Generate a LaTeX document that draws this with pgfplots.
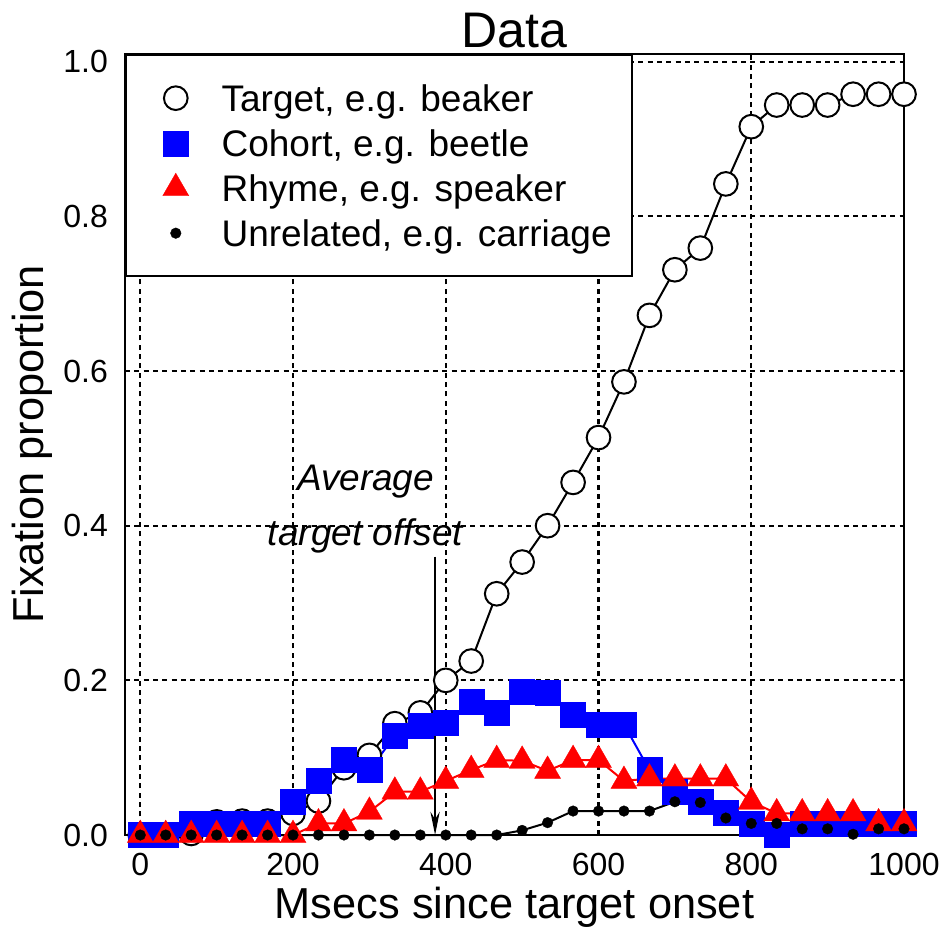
\documentclass[border=0pt]{standalone}
\usepackage{fontspec}
\setmainfont{Liberation Sans}
\usepackage{pgfplots}
\usepackage{pgfplotstable}
\pgfplotsset{compat=1.18}
\usetikzlibrary{arrows.meta}

\pgfplotstableread{
x y
0 0.0
33.3 0.0
66.7 0.002
100 0.017
133.3 0.018
166.7 0.018
200 0.028
233.3 0.044
266.7 0.087
300 0.103
333.3 0.144
366.7 0.158
400 0.200
433.3 0.225
466.7 0.312
500 0.353
533.3 0.400
566.7 0.456
600 0.514
633.3 0.586
666.7 0.672
700 0.731
733.3 0.759
766.7 0.842
800 0.916
833.3 0.944
866.7 0.944
900 0.944
933.3 0.958
966.7 0.958
1000 0.958
}\target

\pgfplotstableread{
x y
0 0.0
33.3 0.0
66.7 0.015
100 0.015
133.3 0.015
166.7 0.015
200 0.043
233.3 0.070
266.7 0.097
300 0.084
333.3 0.128
366.7 0.142
400 0.145
433.3 0.172
466.7 0.158
500 0.185
533.3 0.184
566.7 0.156
600 0.143
633.3 0.143
666.7 0.084
700 0.056
733.3 0.043
766.7 0.029
800 0.015
833.3 0.0
866.7 0.015
900 0.015
933.3 0.015
966.7 0.015
1000 0.015
}\cohort

\pgfplotstableread{
x y
0 0.0
33.3 0.0
66.7 0.0
100 0.0
133.3 0.0
166.7 0.0
200 0.0
233.3 0.015
266.7 0.015
300 0.030
333.3 0.056
366.7 0.056
400 0.070
433.3 0.084
466.7 0.097
500 0.096
533.3 0.083
566.7 0.097
600 0.097
633.3 0.070
666.7 0.073
700 0.073
733.3 0.073
766.7 0.073
800 0.043
833.3 0.028
866.7 0.028
900 0.028
933.3 0.028
966.7 0.015
1000 0.015
}\rhyme

\pgfplotstableread{
x y
0 0.0
33.3 0.0
66.7 0.0
100 0.0
133.3 0.0
166.7 0.0
200 0.0
233.3 0.0
266.7 0.0
300 0.0
333.3 0.0
366.7 0.0
400 0.0
433.3 0.0
466.7 0.0
500 0.006
533.3 0.016
566.7 0.031
600 0.031
633.3 0.031
666.7 0.031
700 0.043
733.3 0.042
766.7 0.022
800 0.015
833.3 0.015
866.7 0.008
900 0.008
933.3 0.001
966.7 0.008
1000 0.008
}\unrelated

\pgfplotsset{
  mylegend/.style={legend image code/.code={
    \path (0cm,-1pt) (0.6cm,1pt);
    \draw[mark repeat=2,mark phase=2,##1] plot coordinates {(0cm,0cm) (0.3cm,0cm) (0.6cm,0cm)};}},
}

\begin{document}
\begin{tikzpicture}
\useasboundingbox (-37.5pt,-28.5pt) rectangle (245.1pt,250.5pt);
\begin{axis}[
  at={(0,0)}, anchor=south west,
  scale only axis, width=233.7pt, height=234.3pt,
  xmin=-20, xmax=1000, ymin=0, ymax=1.01,
  clip=false,
  axis line style={line width=0.6pt},
  xtick={0,200,400,600,800,1000},
  ytick={0,0.2,0.4,0.6,0.8,1.0},
  major tick length=0pt,
  grid=major,
  major grid style={line width=0.65pt, dash pattern=on 1.5pt off 1.3pt, black},
  /pgf/number format/assume math mode=true,
  /pgf/number format/1000 sep={},
  xticklabel style={font=\fontsize{9.6}{11}\selectfont, yshift=-1.9pt},
  yticklabel style={font=\fontsize{9.6}{11}\selectfont, xshift=-1.6pt,
    /pgf/number format/.cd, fixed, fixed zerofill, precision=1},
  title={Data},
  every axis title/.style={at={(axis description cs:0.5,1.00896)}, anchor=base,
    inner sep=0pt, font=\fontsize{15}{18}\selectfont},
  xlabel={Msecs since target onset},
  xlabel style={at={(axis description cs:0.5,-0.10627)}, anchor=base, inner sep=0pt,
    font=\fontsize{13}{15}\selectfont},
  ylabel={Fixation proportion},
  ylabel style={at={(axis description cs:-0.10526,0.5)}, anchor=base, inner sep=0pt,
    rotate=0, font=\fontsize{13}{15}\selectfont},
  legend cell align=left,
  legend style={at={(axis description cs:0,1)}, anchor=north west,
    draw=black, line width=0.6pt, fill=white,
    inner xsep=6.1pt, inner ysep=6.2pt, column sep=4.9pt, row sep=0pt,
    font=\fontsize{11.1}{13.5}\selectfont,
    nodes={inner sep=0pt, text height=10.72pt, text depth=2.78pt}},
]
% Target
\addplot[black, line width=0.6pt, forget plot] table {\target};
\addplot[only marks, mylegend, mark=*, mark size=3.55pt,
  mark options={fill=white, draw=black, line width=0.6pt}] table {\target};
\addlegendentry{Target, e.g. beaker}
% Cohort
\addplot[blue, line width=0.6pt, forget plot] table {\cohort};
\addplot[only marks, mylegend, mark=square*, mark size=3.75pt,
  mark options={fill=blue, draw=blue, line width=0.1pt}] table {\cohort};
\addlegendentry{Cohort, e.g. beetle}
% Rhyme
\addplot[red, line width=0.6pt, forget plot] table {\rhyme};
\addplot[only marks, mylegend, mark=triangle*, mark size=4.5pt,
  mark options={fill=red, draw=red, line width=0.1pt}] table {\rhyme};
\addlegendentry{Rhyme, e.g. speaker}
% Unrelated
\addplot[black, line width=0.6pt, forget plot] table {\unrelated};
\addplot[only marks, mylegend, mark=*, mark size=1.6pt,
  mark options={fill=black, draw=black, line width=0.1pt}] table {\unrelated};
\addlegendentry{Unrelated, e.g. carriage}

\node[font=\fontsize{11.1}{13}\selectfont\itshape, anchor=base, inner sep=0pt]
  at (axis cs:295,0.4454) {Average};
\node[font=\fontsize{11.1}{13}\selectfont\itshape, anchor=base, inner sep=0pt]
  at (axis cs:295,0.375) {target offset};
\draw[line width=0.45pt, -{Stealth[length=7pt,width=2.8pt]}]
  (axis cs:386,0.36) -- (axis cs:386,0);
\end{axis}
\end{tikzpicture}
\end{document}
